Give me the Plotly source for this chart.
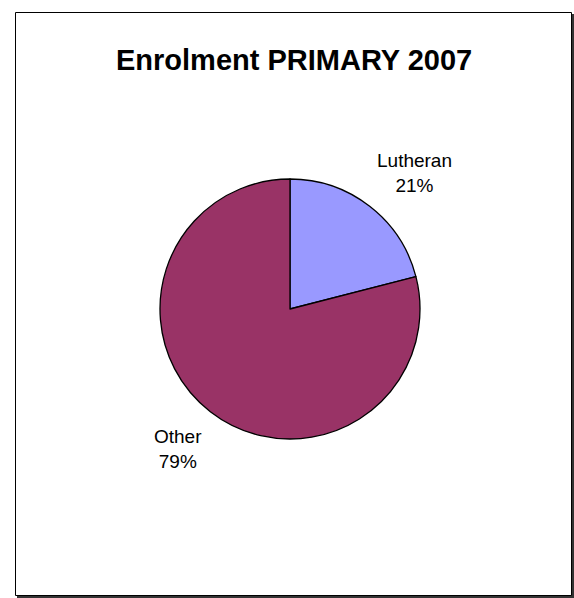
import math
import plotly.graph_objects as go

categories = ["Lutheran", "Other"]
values = [21, 79]
colors = ["#9999FF", "#993366"]
title_text = "Enrolment PRIMARY 2007"

W, H = 574, 598
cx, cy, R = 290, 309, 130


def px(x):
    return x / W


def py(y):
    return 1 - y / H


fig = go.Figure(go.Pie(
    labels=categories, values=values, sort=False, direction="clockwise",
    rotation=0, marker=dict(colors=colors, line=dict(color="black", width=1.3)),
    textinfo="none", hoverinfo="label+percent", showlegend=False,
    domain=dict(x=[(cx - R) / W, (cx + R) / W], y=[1 - (cy + R) / H, 1 - (cy - R) / H]),
))

total = sum(values)
cum = 0
annotations = []
label_offsets = {"Lutheran": (13, 8), "Other": (0, -4)}
for cat, v in zip(categories, values):
    mid = (cum + v / 2) / total * 2 * math.pi
    cum += v
    rl = 182
    dx, dy = label_offsets[cat]
    lx = cx + rl * math.sin(mid) + dx
    ly = cy - rl * math.cos(mid) + dy
    pct = round(v / total * 100)
    annotations.append(dict(
        x=lx / W, y=1 - ly / H, xref="paper", yref="paper", showarrow=False,
        text=f"{cat}<br>{pct}%", font=dict(family="Liberation Sans, Arial", size=19, color="black"),
        align="center", xanchor="center", yanchor="middle"))

annotations.append(dict(
    x=px(294), y=py(60), xref="paper", yref="paper", showarrow=False,
    text=f"<b>{title_text}</b>", font=dict(family="Liberation Sans, Arial", size=29, color="black"),
    xanchor="center", yanchor="middle"))

fig.update_layout(
    width=W, height=H, margin=dict(l=0, r=0, t=0, b=0),
    paper_bgcolor="white", plot_bgcolor="white",
    annotations=annotations,
    shapes=[
        dict(type="rect", xref="paper", yref="paper",
             x0=px(17), x1=px(574), y0=py(598), y1=py(14),
             line=dict(width=0), fillcolor="#333333", layer="below"),
        dict(type="rect", xref="paper", yref="paper",
             x0=px(15.5), x1=px(571.5), y0=py(595.5), y1=py(12.5),
             line=dict(color="black", width=1), fillcolor="white", layer="below"),
    ],
)

fig.write_html(
    "out.html",
    config={"displayModeBar": False},
    post_script="document.body.style.margin='0';document.body.style.overflow='hidden';",
)
